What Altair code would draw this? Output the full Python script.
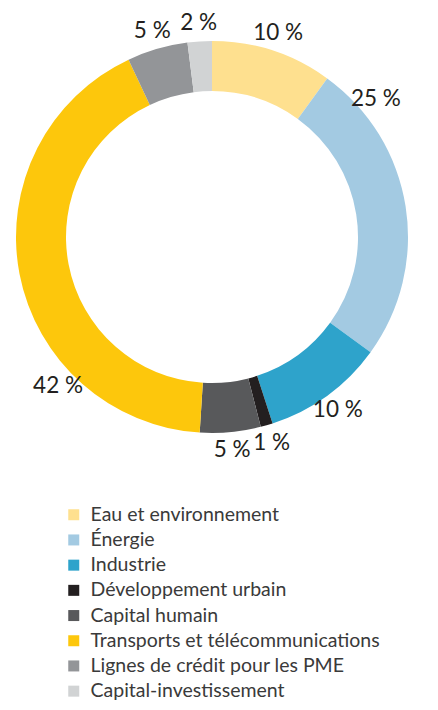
import altair as alt
import pandas as pd

categories = [
    "Eau et environnement",
    "Énergie",
    "Industrie",
    "Développement urbain",
    "Capital humain",
    "Transports et télécommunications",
    "Lignes de crédit pour les PME",
    "Capital-investissement",
]
shares = [10, 25, 10, 1, 5, 42, 5, 2]
colors = ["#FEE08F", "#A3CAE2", "#2EA3CB", "#231F20", "#58595B", "#FDC70C", "#939598", "#D1D3D4"]

df = pd.DataFrame({"category": categories, "share": shares, "order": list(range(len(categories)))})

theta_scale = alt.Scale(domain=[0, 100])

color = alt.Color(
    "category:N",
    scale=alt.Scale(domain=categories, range=colors),
    sort=categories,
    legend=alt.Legend(
        title=None,
        orient="none",
        legendX=56,
        legendY=487,
        symbolType="square",
        symbolSize=121,
        symbolStrokeWidth=0,
        labelFont="Lato",
        labelFontSize=19.5,
        labelColor="#3a3a3a",
        labelOffset=7,
        rowPadding=4.2,
        padding=0,
        labelLimit=420,
    ),
)

base = alt.Chart(df)

arcs = base.mark_arc(outerRadius=196, innerRadius=146).encode(
    theta=alt.Theta("share:Q", stack=True, scale=theta_scale),
    order=alt.Order("order:Q"),
    color=color,
)

labels = (
    base.transform_window(cum="sum(share)", sort=[alt.SortField("order")], frame=[None, 0])
    .transform_calculate(mid="(datum.cum - datum.share / 2) * 3.6")
    .transform_calculate(
        ang="(datum.mid > 50 && datum.mid < 90) ? 50 : (datum.mid >= 90 && datum.mid < 130) ? 130 : "
        "(datum.mid > 226 && datum.mid < 270) ? 226 : (datum.mid >= 270 && datum.mid < 314) ? 314 : datum.mid"
    )
    .transform_calculate(pos="datum.ang / 3.6", txt="datum.share + ' %'")
    .mark_text(radius=214, font="Lato", fontSize=22.5, color="#231F20", baseline="middle", align="center")
    .encode(
        theta=alt.Theta("pos:Q", stack=None, scale=theta_scale),
        text="txt:N",
    )
)

chart = (
    alt.layer(arcs, labels)
    .properties(
        width=408,
        height=438,
        autosize=alt.AutoSizeParams(type="none"),
        padding={"left": 0, "top": 10, "right": 14, "bottom": 246},
    )
    .configure_view(stroke=None)
)

chart.save("out.html", embed_options={"renderer": "svg", "actions": False})
